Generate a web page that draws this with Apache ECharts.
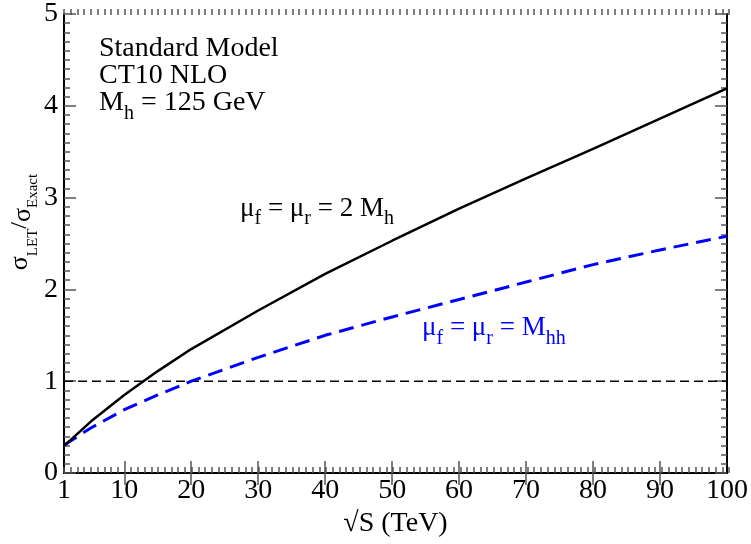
<!DOCTYPE html>
<html>
<head>
<meta charset="utf-8">
<script src="https://cdn.jsdelivr.net/npm/echarts@6/dist/echarts.min.js"></script>
<style>
html,body{margin:0;padding:0;background:#fff;}
#main{width:751px;height:544px;}
</style>
</head>
<body>
<div id="main"></div>
<script>
// Data
var energies = [1, 2, 5, 10, 15, 20, 30, 40, 50, 60, 70, 80, 90, 100];
var ratioTwoMh = [0.30, 0.36, 0.56, 0.85, 1.11, 1.35, 1.77, 2.17, 2.53, 2.88, 3.21, 3.53, 3.86, 4.19];
var ratioMhh   = [0.30, 0.35, 0.49, 0.69, 0.85, 1.00, 1.26, 1.50, 1.70, 1.89, 2.08, 2.27, 2.43, 2.58];
var referenceX = [1, 100];
var referenceY = [1, 1];
var xTickLabels = [1, 10, 20, 30, 40, 50, 60, 70, 80, 90, 100];
var xMajorTicks = [10, 20, 30, 40, 50, 60, 70, 80, 90];

var FONT = 'Liberation Serif';
function pairs(xs, ys) { return xs.map(function (x, i) { return [x, ys[i]]; }); }

var chart = echarts.init(document.getElementById('main'), null, {renderer: 'canvas'});
var tickColor = '#555';
var gridPos = {left: 64, right: 22, top: 9, bottom: 71};

function labelRich(color, mainSize, subSize, pad) {
  return {
    m: {fontFamily: FONT, fontSize: mainSize, lineHeight: pad + subSize, fill: color},
    s: {fontFamily: FONT, fontSize: subSize, lineHeight: subSize, verticalAlign: 'top', padding: [pad, 0, 0, 0], fill: color}
  };
}

var option = {
  backgroundColor: '#fff',
  animation: false,
  grid: [
    Object.assign({}, gridPos),
    Object.assign({}, gridPos)
  ],
  xAxis: [
    {
      type: 'value', gridIndex: 0, position: 'bottom', min: 1, max: 100,
      axisLine: {show: true, lineStyle: {color: '#000', width: 2}},
      axisTick: {show: true, inside: true, length: 12, customValues: xMajorTicks, lineStyle: {color: tickColor, width: 1.5}},
      axisLabel: {show: true, customValues: xTickLabels, margin: 4, fontFamily: FONT, fontSize: 28, color: '#000'},
      splitLine: {show: false},
      name: '\u221AS (TeV)', nameLocation: 'middle', nameGap: 35,
      nameTextStyle: {fontFamily: FONT, fontSize: 28, color: '#000', verticalAlign: 'top'}
    },
    {
      type: 'value', gridIndex: 0, position: 'top', min: 1, max: 100,
      axisLine: {show: true, lineStyle: {color: '#000', width: 2}},
      axisTick: {show: true, inside: true, length: 12, customValues: xMajorTicks, lineStyle: {color: tickColor, width: 1.5}},
      axisLabel: {show: false},
      splitLine: {show: false}
    },
    {
      type: 'value', gridIndex: 1, position: 'bottom', min: 1, max: 100, interval: 1,
      axisLine: {show: false},
      axisTick: {show: true, inside: true, length: 6, lineStyle: {color: tickColor, width: 1.5}},
      axisLabel: {show: false},
      splitLine: {show: false}
    },
    {
      type: 'value', gridIndex: 1, position: 'top', min: 1, max: 100, interval: 1,
      axisLine: {show: false},
      axisTick: {show: true, inside: true, length: 6, lineStyle: {color: tickColor, width: 1.5}},
      axisLabel: {show: false},
      splitLine: {show: false}
    }
  ],
  yAxis: [
    {
      type: 'value', gridIndex: 0, position: 'left', min: 0, max: 5, interval: 1,
      axisLine: {show: true, lineStyle: {color: '#000', width: 2}},
      axisTick: {show: true, inside: true, length: 12, lineStyle: {color: tickColor, width: 1.5}},
      minorTick: {show: true, splitNumber: 10, length: 6, lineStyle: {color: tickColor, width: 1.5}},
      axisLabel: {show: true, margin: 6, fontFamily: FONT, fontSize: 28, color: '#000'},
      splitLine: {show: false}, minorSplitLine: {show: false}
    },
    {
      type: 'value', gridIndex: 0, position: 'right', min: 0, max: 5, interval: 1,
      axisLine: {show: true, lineStyle: {color: '#000', width: 2}},
      axisTick: {show: true, inside: true, length: 12, lineStyle: {color: tickColor, width: 1.5}},
      minorTick: {show: true, splitNumber: 10, length: 6, lineStyle: {color: tickColor, width: 1.5}},
      axisLabel: {show: false},
      splitLine: {show: false}, minorSplitLine: {show: false}
    },
    {
      type: 'value', gridIndex: 1, min: 0, max: 5, show: false
    }
  ],
  series: [
    {
      type: 'line', xAxisIndex: 0, yAxisIndex: 0,
      data: pairs(referenceX, referenceY), showSymbol: false, symbol: 'none',
      lineStyle: {color: '#000', width: 1.6, type: [9, 5]}, silent: true
    },
    {
      type: 'line', xAxisIndex: 0, yAxisIndex: 0,
      data: pairs(energies, ratioMhh), showSymbol: false, symbol: 'none',
      lineStyle: {color: '#0000ff', width: 3, type: [15, 8]}, silent: true
    },
    {
      type: 'line', xAxisIndex: 0, yAxisIndex: 0,
      data: pairs(energies, ratioTwoMh), showSymbol: false, symbol: 'none',
      lineStyle: {color: '#000', width: 2.5, type: 'solid'}, silent: true
    }
  ],
  graphic: [
    {
      type: 'text', x: 99, y: 48.5,
      style: {text: 'Standard Model', fontFamily: FONT, fontSize: 28, fill: '#000', align: 'left', verticalAlign: 'middle'}
    },
    {
      type: 'text', x: 99, y: 75.5,
      style: {text: 'CT10 NLO', fontFamily: FONT, fontSize: 28, fill: '#000', align: 'left', verticalAlign: 'middle'}
    },
    {
      type: 'text', x: 99, y: 102.5,
      style: {
        text: '{m|M}{s|h}{m| = 125 GeV}', align: 'left', verticalAlign: 'middle', fill: '#000',
        rich: labelRich('#000', 28, 20, 23)
      }
    },
    {
      type: 'text', x: 240, y: 209,
      style: {
        text: '{m|\u03BC}{s|f}{m| = \u03BC}{s|r}{m| = 2 M}{s|h}', align: 'left', verticalAlign: 'middle', fill: '#000',
        rich: labelRich('#000', 27, 20, 20)
      }
    },
    {
      type: 'text', x: 422, y: 328,
      style: {
        text: '{m|\u03BC}{s|f}{m| = \u03BC}{s|r}{m| = M}{s|hh}', align: 'left', verticalAlign: 'middle', fill: '#0000ff',
        rich: labelRich('#0000ff', 27, 20, 21)
      }
    },
    {
      type: 'text', x: 20, y: 222, rotation: Math.PI / 2,
      style: {
        text: '{m|\u03C3}{s|LET}{sl|/}{m2|\u03C3}{s|Exact}', align: 'center', verticalAlign: 'middle', fill: '#000',
        rich: {
          m: {fontFamily: FONT, fontSize: 26, lineHeight: 42, fill: '#000'},
          m2: {fontFamily: FONT, fontSize: 26, lineHeight: 26, verticalAlign: 'top', padding: [11, 0, 0, 0], fill: '#000'},
          sl: {fontFamily: FONT, fontSize: 24, lineHeight: 42, fill: '#000'},
          s: {fontFamily: FONT, fontSize: 15, lineHeight: 15, verticalAlign: 'top', padding: [27, 0, 0, 0], fill: '#000'}
        }
      }
    }
  ]
};
chart.setOption(option);
</script>
</body>
</html>
